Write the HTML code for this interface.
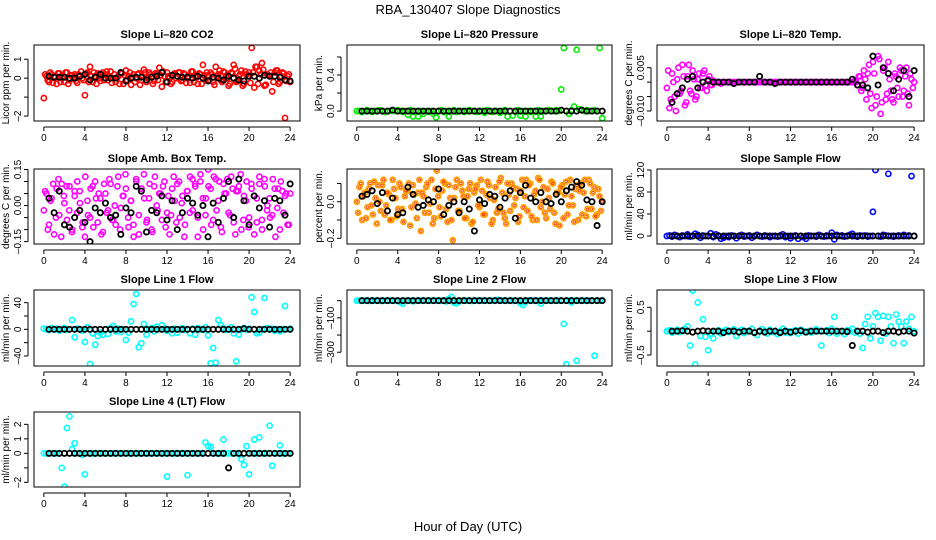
<!DOCTYPE html>
<html><head><meta charset="utf-8"><style>
html,body{margin:0;padding:0;background:#fff;}
svg{display:block;font-family:"Liberation Sans",Arial,sans-serif;}
</style></head><body>
<svg id="chart" width="936" height="540" viewBox="0 0 936 540">
<text x="468" y="14" text-anchor="middle" font-size="13">RBA_130407  Slope Diagnostics</text>
<text x="468" y="531" text-anchor="middle" font-size="13">Hour of Day (UTC)</text>
</svg>
<script>
const xTicks = [0,4,8,12,16,20,24];
const co2Vals = [-1.05,0.1,-0.2,0.2, 0.1,-0.3,0.25,0.0, -0.2,0.3,-0.1,0.15, 0.2,-0.25,0.1,0.0, -0.9,0.3,0.6,-0.2, 0.1,0.25,-0.15,0.3, 0.2,-0.1,0.35,0.0, -0.2,0.1,0.3,-0.3, 0.4,0.1,-0.35,0.2, 0.0,0.25,-0.1,0.45, -0.2,0.3,0.1,-0.15, 0.2,0.55,-0.45,0.1, 0.3,0.0,-0.2,0.25, 0.1,0.3,-0.1,0.2, 0.0,-0.25,0.35,0.1, -0.3,0.2,0.7,-0.1, 0.15,0.3,-0.2,0.6, 0.2,-0.1,0.35,0.1, -0.4,0.3,0.7,-0.2, 0.1,0.4,-0.3,0.2, 0.3,1.6,-0.5,0.6, 0.4,0.8,-0.4,0.2, 0.1,-0.7,0.3,0.4, -0.2,0.3,-2.1,0.1, -0.2];
const co2Vals2 = [0.2,-0.1,0.3,-0.25, 0.05,0.25,-0.2,0.1, 0.3,-0.3,0.15,0.0, -0.15,0.2,0.35,-0.1, 0.25,-0.2,0.1,0.3, -0.3,0.0,0.2,-0.1, 0.35,0.1,-0.25,0.2, 0.0,-0.3,0.25,0.15, -0.1,0.3,0.05,-0.2, 0.2,-0.35,0.1,0.3, 0.0,0.2,-0.3,0.25, -0.1,0.15,0.35,-0.2, 0.1,-0.3,0.2,0.0, 0.3,-0.15,0.25,-0.25, 0.1,0.35,-0.2,0.05, 0.25,-0.3,0.15,0.3, -0.1,0.2,-0.35,0.1, 0.4,-0.2,0.3,0.0, -0.3,0.25,0.5,-0.15, 0.2,-0.4,0.35,0.1, -0.25,0.3,0.6,-0.3, 0.2,0.45,-0.35,0.15, 0.3,-0.2,0.4,-0.3, 0.1,0.25,-0.15,0.2];
const co2Black = [0.1,0.05,0.05,0.05,0.0,0.0,0.1,0.2,-0.1,0.05,0.2,0.0,0.0,0.0,0.3,-0.15,0.0,0.05,0.05,-0.1,0.05,0.1,0.3,-0.2,0.15,0.1,0.05,0.05,0.0,0.1,0.0,-0.15,0.05,0.0,-0.1,0.1,0.0,-0.1,-0.15,0.1,0.1,0.0,0.15,0.1,0.1,0.05,-0.1,-0.15];
const presVals = [0,0,-0.01,0, 0.01,0,-0.01,0, 0,0.01,0,-0.01, 0,0,0.01,0, 0.01,0,-0.01,0, -0.04,0.01,-0.06,0, -0.06,0,-0.03,0, -0.01,0,-0.03,-0.07, 0,0.01,-0.01,0, -0.06,0,0.01,-0.01, 0,0,-0.01,0, 0.01,0,0,-0.01, 0,0,-0.02,0.01, 0,-0.01,0,0, -0.02,0,0.01,-0.06, 0,-0.05,-0.01,0.01, -0.05,0,-0.06,0, -0.01,0,-0.06,0.01, -0.06,0,0,0.01, 0,0,0.01,0, 0.24,0.7,0,-0.03, 0.01,0.05,0.68,0.02, 0.01,0,0.01,0, 0,0.01,0,0.7, -0.08];
const presBlack = [0,0,0,0,0,0,0.01,0,0,0,0,0,0,0,0,0,0,0,0,0,0,0,0,0,0,0,0,0,0,0,0,0,0,0,0,0,0,0,0,0.01,0,0,0,0.01,0,0,0,0];
const tempVals = [-0.002,-0.009,0.003,-0.005,0.001,-0.004,0.006,-0.008, 0.002,-0.003,0.004,-0.006,0.001,-0.002,0.003,-0.001, 0.001,-0.001,0.0005,0,0,-0.0005,0,0, 0,0,0,0,0,0,0,0,0,0,0,0,0,0,0,0,0,0,0,0,0,0,0,0,0,0,0,0,0,0,0,0,0,0,0,0,0,0,0,0,0,0,0,0,0,0,0,0, 0,0.0005,-0.001,0.002,-0.002,0.001,0.003,-0.004, 0.007,-0.008,0.009,-0.011,0.004,-0.006,0.007,-0.003, -0.007,0.002,-0.005,0.004,-0.003,0.005,-0.008,0.001, 0.0];
const tempVals2 = [0.004,-0.006,0.0,-0.01,0.005,-0.003,0.002,-0.007, 0.006,-0.004,0.001,-0.005,0.003,-0.002,0.004,-0.003, 0.002,-0.001, 0,0,0,0,0,0,0,0,0,0,0,0,0,0,0,0,0,0,0,0,0,0,0,0,0,0,0,0,0,0,0,0,0,0,0,0,0,0,0,0,0,0,0,0,0,0,0,0,0,0,0,0,0,0,0,0, 0.002,-0.003,0.004,-0.006,0.006,-0.009,0.003,-0.005,0.008,-0.007,0.005,-0.004,0.001,-0.006,0.003,-0.002,0.005,-0.005,0.002,-0.004,0.003,-0.002];
const tempBlack = [-0.007,-0.004,-0.002,0.001,0.002,-0.002,0.0,0.0005, 0,0,0,0,-0.0005,0,0,0,0, 0.002, 0,0,-0.0005,0,0,0,0,0,0,0,0,0,0,0,0,0,0, 0.001,-0.001,-0.001,-0.002,0.009,-0.001,0.005,0.003,-0.003,0.001,0.004,-0.005,0.004];
const ambVals = [-0.02,0.05,-0.08,0.03, -0.12,0.07,-0.04,0.09, 0.01,-0.06,0.08,-0.1, 0.04,-0.03,0.06,-0.09, -0.13,0.02,-0.05,0.08, 0.1,-0.07,0.03,-0.11, 0.05,-0.02,0.09,-0.06, -0.08,0.12,-0.01,0.04, 0.07,-0.09,0.02,-0.13, 0.11,-0.04,0.06,0.13, -0.07,0.03,-0.1,0.08, 0.0,0.05,-0.06,0.1, -0.03,-0.12,0.07,0.02, 0.09,-0.05,0.04,-0.08, 0.06,0.12,-0.02,0.08, -0.13,0.1,0.03,-0.04, 0.15,0.07,-0.06,0.11, 0.02,-0.09,0.09,0.05, -0.03,0.12,-0.07,0.06, 0.08,-0.1,0.04,0.1, -0.05,0.07,-0.12,0.03, 0.09,-0.06,0.11,-0.02, 0.03,-0.04,0.07,-0.01, -0.1,0.06,0.04,-0.08, 0.05];
const ambVals2 = [0.06,-0.1,0.02,0.09, -0.05,0.11,-0.13,0.04, 0.08,-0.02,-0.11,0.06, 0.1,0.01,-0.07,0.12, -0.04,0.07,-0.09,0.03, 0.05,-0.12,0.09,-0.03, 0.11,-0.06,0.0,0.08, -0.1,0.04,0.13,-0.05, 0.02,-0.08,0.1,-0.12, 0.07,0.03,-0.06,0.09, -0.11,0.12,-0.02,0.05, 0.08,-0.09,0.04,-0.04, 0.12,-0.07,0.1,0.01, -0.13,0.06,-0.03,0.11, 0.09,-0.05,0.13,-0.1, 0.03,0.08,-0.08,0.12, -0.02,0.1,-0.11,0.05, 0.11,-0.04,0.07,-0.12, 0.06,0.13,-0.06,0.02, -0.09,0.09,0.04,-0.07, 0.12,-0.1,0.08,0.0, -0.05,0.11,-0.13,0.07, 0.1,-0.03,0.05,-0.08];
const ambBlack = [0.03,-0.03,0.06,-0.08,-0.09,-0.05,-0.02,-0.07,-0.15,-0.01,-0.03,0.01,-0.05,-0.04,-0.12,-0.01,-0.03,0.08,0.06,-0.11,-0.02,-0.03,0.04,-0.06,0.02,-0.1,-0.03,0.03,0.01,-0.04,0.0,-0.13,0.01,-0.07,0.03,0.1,-0.05,0.11,0.02,-0.08,0.04,-0.01,0.02,-0.09,0.03,0.02,-0.04,0.09];
const rhVals = [0.0,0.08,-0.1,0.05, -0.03,0.1,-0.07,0.02, 0.09,-0.05,0.12,-0.02, 0.04,-0.1,0.07,-0.08, 0.1,-0.04,0.03,0.06, -0.13,0.09,-0.01,0.05, -0.16,0.03,0.08,-0.06, 0.12,-0.09,0.17,-0.03, 0.06,0.1,-0.11,0.02, -0.21,0.08,-0.05,0.1, 0.03,-0.09,0.07,-0.12, 0.05,0.09,-0.03,0.06, -0.07,0.11,0.02,-0.1, 0.08,-0.04,0.13,-0.06, -0.12,0.04,0.1,-0.02, 0.07,-0.08,0.12,0.03, -0.05,0.1,-0.1,0.06, 0.13,-0.03,0.08,-0.09, 0.02,0.11,-0.06,0.05, -0.13,0.09,0.04,-0.07, 0.12,-0.02,0.07,-0.1, 0.1,0.05,-0.08,0.12, -0.04,0.08,-0.07,0.03, 0.0];
const rhVals2 = [-0.06,0.1,0.03,-0.09, 0.07,-0.02,0.11,-0.12, 0.0,0.09,-0.07,0.05, -0.1,0.12,0.02,-0.04, 0.08,-0.11,0.06,0.1, -0.03,0.04,-0.09,0.12, 0.05,-0.06,0.1,-0.01, -0.12,0.07,0.03,-0.08, 0.11,-0.04,0.09,-0.1, 0.02,0.12,-0.05,0.06, -0.09,0.03,0.1,-0.11, 0.07,-0.02,0.12,-0.07, 0.04,0.09,-0.12,0.01, -0.06,0.11,0.05,-0.09, 0.1,-0.05,0.08,0.02, -0.11,0.06,-0.03,0.12, 0.09,-0.08,0.04,-0.1, 0.12,0.0,-0.06,0.07, -0.04,0.1,-0.12,0.05, 0.08,-0.09,0.11,-0.02, 0.03,-0.11,0.09,0.06, -0.07,0.12,-0.04,0.1, 0.05,-0.08,0.07,-0.05];
const rhBlack = [0.03,0.04,0.06,-0.01,0.05,-0.05,0.02,-0.07,-0.06,0.08,0.04,-0.03,-0.02,0.01,0.0,0.07,-0.07,-0.02,0.0,-0.06,0.0,-0.04,-0.16,0.01,-0.01,0.04,0.03,-0.03,0.02,0.06,-0.09,0.05,0.09,0.02,0.0,0.05,0.0,-0.01,0.04,0.0,0.06,0.08,0.11,0.09,0.01,0.0,-0.13,0.0];
const sampleVals = [0,1,-1,2, 0,-2,1,0, 3,-1,0,4, 2,-3,1,0, 0,5,-2,3, 1,-5,-3,0, -2,1,0,-4, 0,2,-1,0, 1,-3,0,2, 0,-1,1,0, -2,0,0,-1, 1,3,-2,0, -4,0,1,-5, 0,-2,-5,1, 0,0,-1,2, 0,-1,1,0, 6,-6,2,0, 1,-1,0,2, 4,0,-1,1, 0,1,-1,0, 44,120,0,-1, 2,1,113,0, -1,0,1,0, 2,0,1,109, 0];
const sampleBlack = [0,0,0,0,0,0,0,0,0,0,0,0,0,0,0,0,0,0,0,0,0,0,0,0,0,0,0,0,0,0,0,0,0,0,0,0,0,0,0,0,0,0,0,0,0,0,0,0];
const line1Vals = [1,0,-1,2, 0,1,-2,0, 2,-1,0,14, -12,1,0,-2, -19,3,-52,-6, -23,-10,-5,-8, 0,-7,2,5, -3,1,-4,0, -16,-5,12,38, 53,-27,-21,8, -8,0,2,-3, 4,0,6,1, -2,0,-6,1, -5,0,2,-1, 0,-6,1,-8, 2,0,-1,3, -9,-51,-28,-50, 14,6,2,-1, 0,3,-6,-48, -8,0,2,-1, 1,48,26,-6, -5,0,47,2, 0,1,-2,0, -3,0,35,0, 1];
const line1Black = [0,0,0,0,0,0,0,0,0,0,0,0,0,0,0,0,0,0,0,0,0,0,0,0,0,0,0,0,0,0,0,0,0,0,0,0,0,0,1,0,0,0,0,0,0,0,0,0];
const line2Vals = [0,0,0,0, 0,-2,0,0, 0,0,-1,0, 0,0,0,0, 0,-8,-18,0, 0,0,-3,-1, 0,0,0,0, 0,0,0,0, 0,-1,0,-5, 10,22,-12,-15, -5,0,0,0, 0,-2,0,0, 0,0,1,0, 0,0,0,5, 0,0,0,0, 0,0,0,0, -15,-25,-8,2, 0,0,0,0, -16,0,0,0, 0,0,0,0, 0,-135,-370,0, -10,0,-350,0, 0,0,0,0, 0,-320,0,0, 0];
const line2Black = [0,0,0,0,0,0,0,0,0,0,0,0,0,0,0,0,0,0,0,0,0,0,0,0,0,0,0,0,0,0,0,0,0,0,0,0,0,0,0,0,0,0,0,0,0,0,0,0];
const line3Vals = [0,0.02,-0.03,0, 0.03,-0.02,0,0.05, 0.1,-0.3,0.85,-0.7, 0.6,-0.1,0.25,-0.12, -0.4,-0.05,-0.15,0, 0.02,-0.05,0,0.03, -0.02,0,0.04,-0.1, 0,0.03,-0.04,0, 0,0.05,-0.03,-0.08, 0,0.04,0,-0.05, 0.03,-0.02,0,-0.06, 0,0.05,-0.03,0, -0.04,0,0.02,-0.05, 0.03,0,-0.02,0, -0.03,0,0.04,0, -0.3,0,0.02,-0.04, 0.05,0.3,-0.05,0, 0,-0.06,0.02,0, 0.05,-0.03,0,-0.05, -0.35,0.15,0.3,-0.15, 0.1,0.38,0.3,-0.2, 0.32,-0.05,0.3,0.1, -0.25,0.35,0.2,0.1, -0.25,0.2,0.05,0.3, 0];
const line3Black = [0,0,0.01,0,-0.02,0,0.01,0,0,0,-0.03,0,0,-0.02,0,0,-0.03,0,-0.02,0,0,-0.03,0,-0.02,0,0.01,-0.02,0,0,0,0,0,0,0,-0.01,-0.3,0,0,-0.02,0,0,-0.03,0,0,-0.02,0,0,-0.04];
const line4Vals = [0,0,0,0, 0,0,0,-1.0, -2.3,1.75,2.55,0.3, 0.7,0,0,-0.1, -1.45,0,0,0, 0,0,0,0, 0,0,0,0, 0,0,0,0, 0,0,0,0, 0,0,0,0, 0,0,0,0, 0,0,0,0, -1.6,0,0,0, 0,0,0,0, -1.5,0,0,0, 0,0,0,0.75, 0.5,0.45,0,0, 0,0,0.95,0, 0,0,0,0, 0,-0.4,-0.8,0.5, -1.45,0,0.95,0, 1.1,0,0,0, 1.9,-0.85,0,0, 0.55,0,0,0, 0];
const line4Black = [0,0,0,0,0,0,0,0,0,0,0,0,0,0,0,0,0,0,0,0,0,0,0,0,0,0,0,0,0,0,0,0,0,0,0,-1.0,0,0,0,0,0,0,0,0,0,0,0,0];

const svg = document.getElementById('chart');
const NS = 'http://www.w3.org/2000/svg';
function mk(tag, attrs){ const e=document.createElementNS(NS,tag); for(const k in attrs) e.setAttribute(k,attrs[k]); svg.appendChild(e); return e; }

const cols = [[34,300],[347,612],[657,924]];
const rows = [[45,121],[169,244],[290,366],[412,487]];
const panels = [
 {t:'Slope Li-820 CO2', yl:'Licor ppm per min.', c:0,r:0, lo:-2.26,hi:1.75, ticks:[-2,-1,0,1], labs:{'-2':'-2','0':'0','1':'1'}, vals:co2Vals, vals2:co2Vals2, blk:co2Black, col:'#ff0000', key:'co2'},
 {t:'Slope Li-820 Pressure', yl:'kPa per min.', c:1,r:0, lo:-0.11,hi:0.733, ticks:[0,0.2,0.4,0.6], labs:{'0':'0.0','0.4':'0.4'}, vals:presVals, vals2:null, blk:presBlack, col:'#00ee00', key:'pressure'},
 {t:'Slope Li-820 Temp.', yl:'degrees C per min.', c:2,r:0, lo:-0.01346,hi:0.01286, ticks:[-0.01,-0.005,0,0.005], labs:{'-0.01':'-0.010','0.005':'0.005'}, vals:tempVals, vals2:tempVals2, blk:tempBlack, col:'#ff00ff', key:'li820-temp'},
 {t:'Slope Amb. Box Temp.', yl:'degrees C per min.', c:0,r:1, lo:-0.16,hi:0.152, ticks:[-0.15,-0.1,-0.05,0,0.05,0.1,0.15], labs:{'-0.15':'-0.15','0':'0.00','0.15':'0.15'}, vals:ambVals, vals2:ambVals2, blk:ambBlack, col:'#ff00ff', key:'amb-box-temp'},
 {t:'Slope Gas Stream RH', yl:'percent per min.', c:1,r:1, lo:-0.231,hi:0.179, ticks:[-0.2,-0.1,0,0.1], labs:{'-0.2':'-0.2','0':'0.0'}, vals:rhVals, vals2:rhVals2, blk:rhBlack, col:'#ffa000', key:'gas-stream-rh'},
 {t:'Slope Sample Flow', yl:'ml/min per min.', c:2,r:1, lo:-14.5,hi:121.8, ticks:[0,40,80,120], labs:{'0':'0','40':'40','80':'80','120':'120'}, vals:sampleVals, vals2:null, blk:sampleBlack, col:'#0000ff', key:'sample-flow'},
 {t:'Slope Line 1 Flow', yl:'ml/min per min.', c:0,r:2, lo:-55,hi:59, ticks:[-40,-20,0,20,40], labs:{'-40':'-40','0':'0','40':'40'}, vals:line1Vals, vals2:null, blk:line1Black, col:'#00ffff', key:'line1-flow'},
 {t:'Slope Line 2 Flow', yl:'ml/min per min.', c:1,r:2, lo:-380,hi:62, ticks:[-300,-200,-100,0], labs:{'-300':'-300','-100':'-100'}, vals:line2Vals, vals2:null, blk:line2Black, col:'#00ffff', key:'line2-flow'},
 {t:'Slope Line 3 Flow', yl:'ml/min per min.', c:2,r:2, lo:-0.73,hi:0.863, ticks:[-0.5,0,0.5], labs:{'-0.5':'-0.5','0.5':'0.5'}, vals:line3Vals, vals2:null, blk:line3Black, col:'#00ffff', key:'line3-flow'},
 {t:'Slope Line 4 (LT) Flow', yl:'ml/min per min.', c:0,r:3, lo:-2.32,hi:2.85, ticks:[-2,-1,0,1,2], labs:{'-2':'-2','0':'0','1':'1','2':'2'}, vals:line4Vals, vals2:null, blk:line4Black, col:'#00ffff', key:'line4-flow'}
];

panels.forEach(p=>{
  const [x0,x1]=cols[p.c], [y0,y1]=rows[p.r];
  const sx = h => x0 + (h+0.96)/25.92*(x1-x0);
  const sy = v => y1 - (v-p.lo)/(p.hi-p.lo)*(y1-y0);
  const g = mk('g',{});
  
  
  const add=(tag,a)=>{const e=mk(tag,a); g.appendChild(e); return e;};
  const tt = add('text',{x:(x0+x1)/2,y:y0-7,'text-anchor':'middle','font-size':'11','font-weight':'bold'});
  tt.textContent = p.t.replace('-','\u2013');
  
  
  const yt = add('text',{x:0,y:0,'text-anchor':'middle','font-size':'10',transform:`translate(${x0-25},${(y0+y1)/2}) rotate(-90)`});
  yt.textContent = p.yl;
  
  
  const xa = add('line',{x1:sx(0),x2:sx(24),y1:y1+6,y2:y1+6,stroke:'#000','stroke-width':1});
  
  
  xTicks.forEach(h=>{
    add('line',{x1:sx(h),x2:sx(h),y1:y1+6,y2:y1+10,stroke:'#000'});
    const l=add('text',{x:sx(h),y:y1+20,'text-anchor':'middle','font-size':'10'});
    l.textContent=h;
    
    
  });
  const ya = add('line',{x1:x0-6,x2:x0-6,y1:sy(p.ticks[0]),y2:sy(p.ticks[p.ticks.length-1]),stroke:'#000'});
  
  
  p.ticks.forEach(v=>{
    add('line',{x1:x0-10,x2:x0-6,y1:sy(v),y2:sy(v),stroke:'#000'});
    const s = p.labs[String(v)];
    if(s!==undefined){
      const l=add('text',{x:0,y:0,'text-anchor':'middle','font-size':'10',transform:`translate(${x0-13},${sy(v)}) rotate(-90)`});
      l.textContent=s.replace('-','\u2013');
      
      
    }
  });
  const cid='clip'+p.key;
  const cp=add('clipPath',{id:cid}); const cr=document.createElementNS(NS,'rect');
  cr.setAttribute('x',x0);cr.setAttribute('y',y0);cr.setAttribute('width',x1-x0);cr.setAttribute('height',y1-y0);cp.appendChild(cr);
  const pts = add('g',{'clip-path':`url(#${cid})`});
  function drawColored(arr, start, span){
    const n=arr.length;
    arr.forEach((v,i)=>{
      const h = start + i*span/(n-1);
      const c=document.createElementNS(NS,'circle');
      c.setAttribute('cx',sx(h));c.setAttribute('cy',sy(v));c.setAttribute('r',2.6);
      c.setAttribute('fill','none');c.setAttribute('stroke',p.col);c.setAttribute('stroke-width',1.6);
      
      
      pts.appendChild(c);
      if(p.key==='gas-stream-rh'){
        const d=document.createElementNS(NS,'circle');
        d.setAttribute('cx',sx(h));d.setAttribute('cy',sy(v));d.setAttribute('r',1.2);
        d.setAttribute('fill','none');d.setAttribute('stroke','#ff3000');d.setAttribute('stroke-width',0.8);
        
        
        pts.appendChild(d);
      }
    });
  }
  drawColored(p.vals, 0, 24);
  if(p.vals2) drawColored(p.vals2, 0.125, 23.75);
  const m=p.blk.length;
  p.blk.forEach((v,i)=>{
    const h = 0.5 + i*23.5/(m-1);
    const c=document.createElementNS(NS,'circle');
    c.setAttribute('cx',sx(h));c.setAttribute('cy',sy(v));c.setAttribute('r',2.6);
    c.setAttribute('fill','none');c.setAttribute('stroke','#000');c.setAttribute('stroke-width',1.8);
    
    
    pts.appendChild(c);
  });
  const box = add('rect',{x:x0,y:y0,width:x1-x0,height:y1-y0,fill:'none',stroke:'#000','stroke-width':1});
  
  
});
</script>
</body></html>
